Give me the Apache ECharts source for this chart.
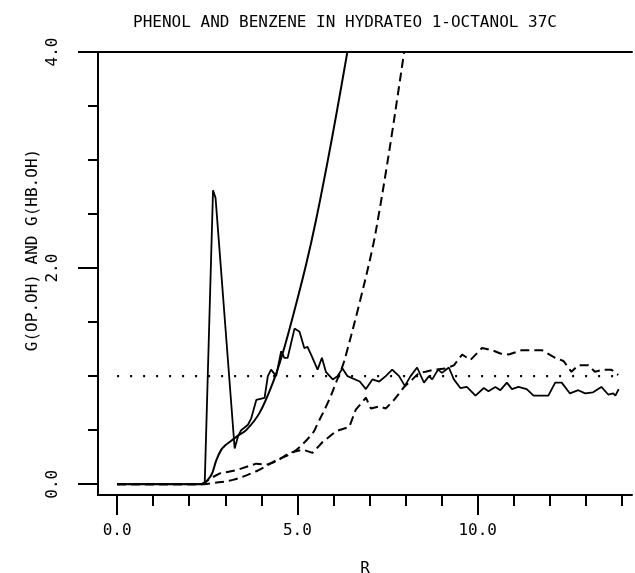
<!DOCTYPE html>
<html>
<head>
<meta charset="utf-8">
<script src="https://cdn.jsdelivr.net/npm/echarts@6/dist/echarts.min.js"></script>
<style>
  html, body { margin: 0; padding: 0; background: #fff; }
  #chart { width: 635px; height: 573px; }
</style>
</head>
<body>
<div id="chart"></div>
<script>
// Radial distribution functions and running coordination numbers, r in Angstrom

// g(OP.OH): phenol oxygen - hydroxyl (thin solid)
const rGop = [0, 2.30, 2.43, 2.66, 2.73, 3.26, 3.35, 3.44, 3.63, 3.72, 3.86, 4.09, 4.18, 4.27, 4.41,
  4.55, 4.64, 4.73, 4.92, 5.06, 5.19, 5.28, 5.38, 5.56, 5.68, 5.79, 5.98, 6.11, 6.25, 6.39, 6.73,
  6.90, 7.08, 7.27, 7.45, 7.63, 7.82, 7.98, 8.14, 8.32, 8.51, 8.65, 8.74, 8.90, 9.01, 9.20, 9.34,
  9.52, 9.70, 9.94, 10.17, 10.30, 10.49, 10.63, 10.81, 10.95, 11.13, 11.36, 11.55, 11.96, 12.15,
  12.33, 12.56, 12.79, 12.98, 13.20, 13.43, 13.62, 13.76, 13.82, 13.91];
const gOp = [0, 0, 0.01, 2.72, 2.65, 0.33, 0.44, 0.50, 0.55, 0.61, 0.78, 0.80, 1.00, 1.06, 1.00,
  1.23, 1.17, 1.17, 1.44, 1.41, 1.26, 1.27, 1.20, 1.06, 1.17, 1.04, 0.97, 1.00, 1.07, 1.00, 0.95,
  0.88, 0.97, 0.95, 1.00, 1.06, 1.00, 0.91, 1.00, 1.08, 0.94, 1.00, 0.97, 1.06, 1.03, 1.08, 0.97,
  0.89, 0.90, 0.82, 0.89, 0.86, 0.90, 0.87, 0.94, 0.88, 0.90, 0.88, 0.82, 0.82, 0.94,
  0.94, 0.84, 0.87, 0.84, 0.85, 0.90, 0.83, 0.84, 0.82, 0.88];

// running coordination number around the phenol oxygen (solid)
const rNop = [0, 2.35, 2.43, 2.62, 2.75, 2.89, 3.00, 3.12, 3.35, 3.58, 3.95, 4.32, 4.59, 4.92,
  5.24, 5.52, 5.84, 6.10, 6.38, 6.55];
const nOp = [0, 0, 0.01, 0.09, 0.22, 0.32, 0.36, 0.39, 0.45, 0.50, 0.66, 0.94, 1.21, 1.61,
  2.03, 2.45, 2.99, 3.46, 3.99, 4.32];

// g(HB.OH): benzene centre - hydroxyl (dashed)
const rGhb = [0, 2.35, 2.45, 2.62, 2.85, 3.31, 3.86, 4.14, 4.41, 4.78, 5.15, 5.42, 5.70, 6.07,
  6.44, 6.62, 6.90, 7.04, 7.27, 7.45, 7.68, 7.96, 8.19, 8.37, 8.55, 8.78, 9.10, 9.34, 9.57, 9.80,
  10.12, 10.40, 10.63, 10.86, 11.22, 11.50, 11.78, 12.15, 12.38, 12.60, 12.79, 13.07, 13.25,
  13.48, 13.71, 13.90];
const gHb = [0, 0, 0.02, 0.06, 0.10, 0.13, 0.19, 0.18, 0.21, 0.29, 0.32, 0.29, 0.39, 0.49,
  0.53, 0.69, 0.80, 0.70, 0.72, 0.70, 0.78, 0.90, 0.97, 1.03, 1.04, 1.06, 1.07, 1.10, 1.20, 1.15,
  1.26, 1.24, 1.21, 1.20, 1.24, 1.24, 1.24, 1.17, 1.14, 1.04, 1.10, 1.10, 1.04,
  1.06, 1.06, 1.01];

// running coordination number around the benzene centre (dashed)
const rNhb = [0, 2.40, 2.66, 3.21, 3.86, 4.41, 4.90, 5.42, 5.56, 5.88, 6.07, 6.25, 6.35, 6.71,
  7.08, 7.27, 7.45, 7.63, 7.77, 7.96, 8.15];
const nHb = [0, 0, 0.01, 0.04, 0.12, 0.22, 0.30, 0.47, 0.56, 0.78, 0.94, 1.09, 1.20, 1.66,
  2.18, 2.52, 2.88, 3.26, 3.57, 4.00, 4.45];

// reference level g = 1
const rRef = [0, 14];
const gRef = [1, 1];

// axis ticks
const xMajor = [0, 5, 10];
const xMinor = [1, 2, 3, 4, 6, 7, 8, 9, 11, 12, 13, 14];
const yMajor = [0, 2, 4];
const yMinor = [0.5, 1, 1.5, 2.5, 3, 3.5];

const FONT = 'DejaVu Sans Mono';
const zip = (xs, ys) => xs.map((x, i) => [x, ys[i]]);

const X_MIN = -0.53, X_MAX = 14.28;
const Y_MIN = -0.1, Y_MAX = 4.0;

const chart = echarts.init(document.getElementById('chart'), null, { renderer: 'canvas' });

const line = (data, opts) => Object.assign({
  type: 'line',
  data: data,
  showSymbol: false,
  symbol: 'none',
  clip: true,
  silent: true,
  lineStyle: { color: '#000', width: 2 }
}, opts);

const tickStyle = { color: '#000', width: 2 };

chart.setOption({
  animation: false,
  backgroundColor: '#fff',
  title: {
    text: 'PHENOL AND BENZENE IN HYDRATEO 1-OCTANOL 37C',
    left: 340,
    top: 10,
    textAlign: 'center',
    textStyle: { fontFamily: FONT, fontSize: 16, fontWeight: 'normal', color: '#000' }
  },
  graphic: [{
    type: 'text',
    x: 33,
    y: 250,
    rotation: Math.PI / 2,
    style: {
      text: 'G(OP.OH) AND G(HB.OH)',
      font: '16px "DejaVu Sans Mono"',
      fill: '#000',
      align: 'center',
      verticalAlign: 'middle'
    }
  }],
  grid: { left: 98, top: 52, width: 534, height: 443, containLabel: false, outerBoundsMode: 'none' },
  xAxis: [{
    type: 'value', position: 'bottom', min: X_MIN, max: X_MAX,
    name: 'R', nameLocation: 'middle', nameGap: 66,
    nameTextStyle: { fontFamily: FONT, fontSize: 16, color: '#000' },
    axisLine: { show: true, onZero: false, lineStyle: tickStyle },
    axisTick: { show: true, customValues: xMajor, length: 20, lineStyle: tickStyle },
    axisLabel: {
      show: true, customValues: xMajor, margin: 28,
      formatter: v => v.toFixed(1),
      fontFamily: FONT, fontSize: 16, color: '#000'
    },
    splitLine: { show: false }
  }, {
    type: 'value', position: 'bottom', min: X_MIN, max: X_MAX,
    axisLine: { show: false, onZero: false },
    axisTick: { show: true, customValues: xMinor, length: 11, lineStyle: tickStyle },
    axisLabel: { show: false },
    splitLine: { show: false }
  }, {
    type: 'value', position: 'top', min: X_MIN, max: X_MAX,
    axisLine: { show: true, onZero: false, lineStyle: tickStyle },
    axisTick: { show: false },
    axisLabel: { show: false },
    splitLine: { show: false }
  }],
  yAxis: [{
    type: 'value', position: 'left', min: Y_MIN, max: Y_MAX,
    axisLine: { show: true, onZero: false, lineStyle: tickStyle },
    axisTick: { show: true, customValues: yMajor, length: 20, lineStyle: tickStyle },
    axisLabel: {
      show: true, customValues: yMajor, rotate: 90, margin: 37,
      formatter: v => v.toFixed(1),
      fontFamily: FONT, fontSize: 16, color: '#000'
    },
    splitLine: { show: false }
  }, {
    type: 'value', position: 'left', min: Y_MIN, max: Y_MAX,
    axisLine: { show: false, onZero: false },
    axisTick: { show: true, customValues: yMinor, length: 10, lineStyle: tickStyle },
    axisLabel: { show: false },
    splitLine: { show: false }
  }],
  series: [
    line(zip(rRef, gRef), { lineStyle: { color: '#000', width: 2.2, type: [2, 11], cap: 'butt' } }),
    line(zip(rGop, gOp), { lineStyle: { color: '#000', width: 1.8 } }),
    line(zip(rNop, nOp), { smooth: 0.35, lineStyle: { color: '#000', width: 2 } }),
    line(zip(rGhb, gHb), { lineStyle: { color: '#000', width: 2, type: [9, 5] } }),
    line(zip(rNhb, nHb), { smooth: 0.35, lineStyle: { color: '#000', width: 2, type: [9, 5] } })
  ]
});
</script>
</body>
</html>
